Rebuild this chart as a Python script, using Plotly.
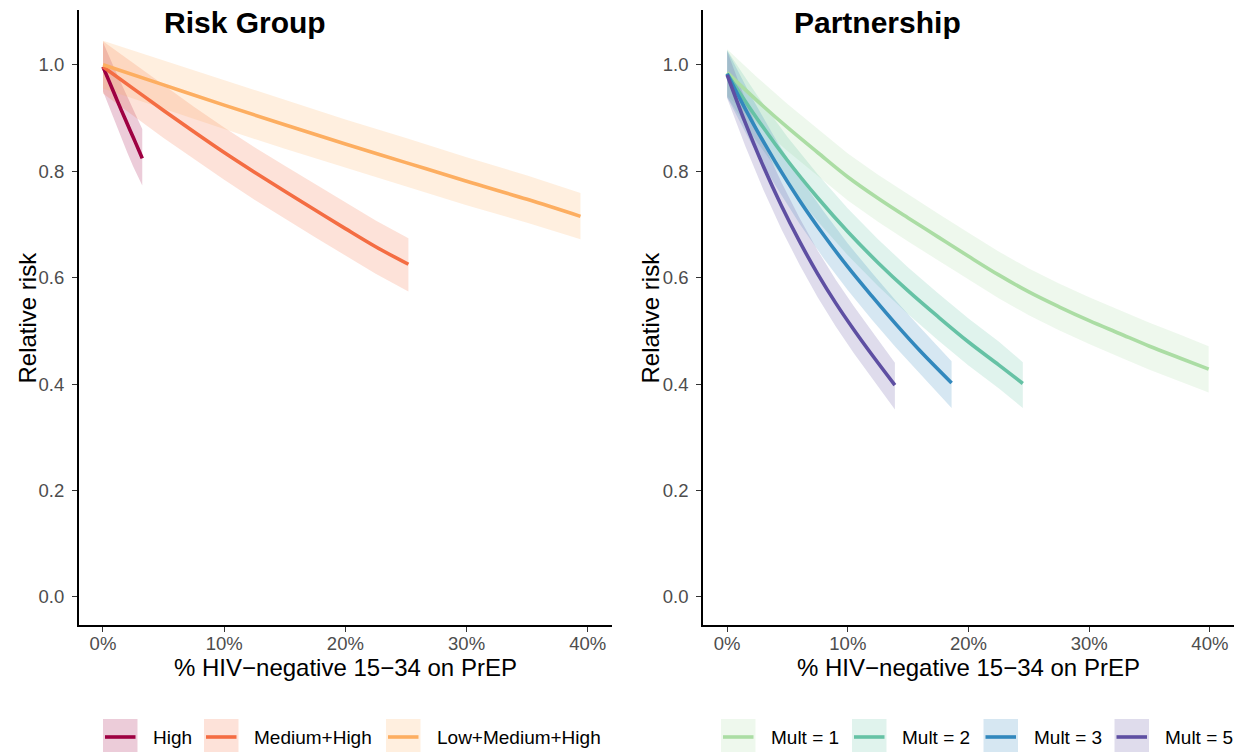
import plotly.graph_objects as go

# ---------------- data ----------------
# Left panel: Risk Group (x = % HIV-negative 15-34 on PrEP, y = relative risk)
high_x = [0, 0.5, 1.0, 1.5, 2.0, 2.5, 3.0, 3.24]
high_y = [0.996, 0.969, 0.942, 0.915, 0.889, 0.863, 0.837, 0.824]
high_lo = [0.950, 0.921, 0.893, 0.864, 0.835, 0.808, 0.784, 0.773]
high_hi = [1.042, 1.015, 0.990, 0.965, 0.940, 0.915, 0.890, 0.879]

medhigh_x = [0, 2.5, 5, 7.5, 10, 12.5, 15, 17.5, 20, 22.5, 25.2]
medhigh_y = [0.996, 0.955, 0.914, 0.874, 0.835, 0.798, 0.762, 0.727, 0.692, 0.658, 0.625]
medhigh_lo = [0.946, 0.904, 0.862, 0.823, 0.784, 0.746, 0.711, 0.676, 0.641, 0.607, 0.574]
medhigh_hi = [1.044, 1.003, 0.962, 0.921, 0.882, 0.845, 0.810, 0.776, 0.741, 0.707, 0.674]

lmh_x = [0, 5, 10, 15, 20, 25, 30, 35, 39.4]
lmh_y = [1.0, 0.962, 0.924, 0.887, 0.851, 0.816, 0.781, 0.747, 0.715]
lmh_lo = [0.955, 0.917, 0.879, 0.842, 0.806, 0.771, 0.736, 0.703, 0.672]
lmh_hi = [1.045, 1.008, 0.970, 0.933, 0.897, 0.862, 0.826, 0.792, 0.759]

# Right panel: Partnership
m1_x = [0, 2.5, 5, 7.5, 10, 12.5, 15, 17.5, 20, 22.5, 25, 27.5, 30, 32.5, 35, 37.5, 39.9]
m1_y = [0.985, 0.932, 0.882, 0.835, 0.789, 0.749, 0.712, 0.676, 0.640, 0.605, 0.573, 0.545, 0.519, 0.495, 0.471, 0.449, 0.428]
m1_lo = [0.941, 0.888, 0.838, 0.791, 0.745, 0.705, 0.668, 0.632, 0.596, 0.561, 0.529, 0.501, 0.475, 0.451, 0.427, 0.405, 0.384]
m1_hi = [1.029, 0.976, 0.926, 0.879, 0.833, 0.793, 0.756, 0.720, 0.684, 0.649, 0.617, 0.589, 0.563, 0.539, 0.515, 0.493, 0.471]

m2_x = [0, 2.5, 5, 7.5, 10, 12.5, 15, 17.5, 20, 22.5, 24.5]
m2_y = [0.983, 0.898, 0.820, 0.750, 0.686, 0.628, 0.575, 0.526, 0.479, 0.436, 0.401]
m2_lo = [0.939, 0.854, 0.776, 0.706, 0.642, 0.584, 0.531, 0.482, 0.435, 0.392, 0.355]
m2_hi = [1.027, 0.942, 0.864, 0.794, 0.730, 0.672, 0.619, 0.570, 0.523, 0.480, 0.441]

m3_x = [0, 2, 4, 6, 8, 10, 12, 14, 16, 18.6]
m3_y = [0.983, 0.896, 0.817, 0.745, 0.680, 0.620, 0.565, 0.512, 0.462, 0.402]
m3_lo = [0.939, 0.852, 0.773, 0.701, 0.636, 0.576, 0.521, 0.468, 0.418, 0.355]
m3_hi = [1.027, 0.940, 0.861, 0.789, 0.724, 0.664, 0.609, 0.556, 0.506, 0.443]

m5_x = [0, 1.5, 3, 4.5, 6, 7.5, 9, 10.5, 12, 13.9]
m5_y = [0.981, 0.891, 0.809, 0.735, 0.668, 0.607, 0.552, 0.502, 0.455, 0.398]
m5_lo = [0.937, 0.847, 0.765, 0.691, 0.624, 0.563, 0.508, 0.458, 0.411, 0.352]
m5_hi = [1.025, 0.935, 0.853, 0.779, 0.712, 0.651, 0.596, 0.546, 0.499, 0.440]

left_names = ["High", "Medium+High", "Low+Medium+High"]
right_names = ["Mult = 1", "Mult = 2", "Mult = 3", "Mult = 5"]
x_ticks = [0, 10, 20, 30, 40]
y_ticks = [0.0, 0.2, 0.4, 0.6, 0.8, 1.0]

# ---------------- style ----------------
W, H = 1244, 752
FONT = "Liberation Sans, Arial, Helvetica, sans-serif"
left_cols = ["#9E0142", "#F46D43", "#FDAE61"]
right_cols = ["#ABDDA4", "#66C2A5", "#3288BD", "#5E4FA2"]


def rgba(hexc, a):
    h = hexc.lstrip("#")
    r, g, b = int(h[0:2], 16), int(h[2:4], 16), int(h[4:6], 16)
    return f"rgba({r},{g},{b},{a})"


def px(x):
    return x / W


def py(y):
    return 1 - y / H


left_series = [
    (high_x, high_y, high_lo, high_hi),
    (medhigh_x, medhigh_y, medhigh_lo, medhigh_hi),
    (lmh_x, lmh_y, lmh_lo, lmh_hi),
]
right_series = [
    (m1_x, m1_y, m1_lo, m1_hi),
    (m2_x, m2_y, m2_lo, m2_hi),
    (m3_x, m3_y, m3_lo, m3_hi),
    (m5_x, m5_y, m5_lo, m5_hi),
]

fig = go.Figure()


def add_panel(series, cols, names, xa, ya):
    for (xs, ys, lo, hi), c, n in zip(series, cols, names):
        fig.add_trace(go.Scatter(
            x=list(xs) + list(xs)[::-1], y=list(hi) + list(lo)[::-1],
            fill="toself", fillcolor=rgba(c, 0.2), line=dict(width=0),
            mode="lines", hoverinfo="skip", showlegend=False, xaxis=xa, yaxis=ya))
    for (xs, ys, lo, hi), c, n in zip(series, cols, names):
        fig.add_trace(go.Scatter(
            x=xs, y=ys, mode="lines", name=n,
            line=dict(color=c, width=3.6, shape="spline", smoothing=1.0),
            showlegend=False, xaxis=xa, yaxis=ya))


add_panel(left_series, left_cols, left_names, "x", "y")
add_panel(right_series, right_cols, right_names, "x2", "y2")

y_top, y_bot = 10, 625
ydom = [py(y_bot), py(y_top)]
xaxis_common = dict(
    range=[-2, 42], tickvals=x_ticks, ticktext=[f"{v}%" for v in x_ticks],
    showgrid=False, zeroline=False, showline=True, linecolor="black", linewidth=1.6,
    ticks="outside", ticklen=5, tickwidth=1.2, tickcolor="#333333", ticklabelstandoff=-4,
    tickfont=dict(family=FONT, size=18.5, color="#4D4D4D"), fixedrange=True,
)
yaxis_common = dict(
    range=[-0.0527, 1.1027], tickvals=y_ticks, ticktext=[f"{v:.1f}" for v in y_ticks],
    showgrid=False, zeroline=False, showline=True, linecolor="black", linewidth=1.6,
    ticks="outside", ticklen=5, tickwidth=1.2, tickcolor="#333333", ticklabelstandoff=4,
    tickfont=dict(family=FONT, size=18.5, color="#4D4D4D"), domain=ydom, fixedrange=True,
)

fig.update_layout(
    width=W, height=H, margin=dict(l=0, r=0, t=0, b=0),
    paper_bgcolor="white", plot_bgcolor="white", showlegend=False,
    font=dict(family=FONT, color="black"),
    xaxis=dict(xaxis_common, domain=[px(78.75), px(612)], anchor="y"),
    yaxis=dict(yaxis_common, anchor="x"),
    xaxis2=dict(xaxis_common, domain=[px(703), px(1234)], anchor="y2"),
    yaxis2=dict(yaxis_common, anchor="x2"),
)

ann = []
# panel titles
ann.append(dict(text="<b>Risk Group</b>", x=px(245), y=py(22), xref="paper", yref="paper",
                showarrow=False, font=dict(size=30, family=FONT, color="black"),
                xanchor="center", yanchor="middle"))
ann.append(dict(text="<b>Partnership</b>", x=px(877), y=py(22), xref="paper", yref="paper",
                showarrow=False, font=dict(size=30, family=FONT, color="black"),
                xanchor="center", yanchor="middle"))
# axis titles
for cx in (345.4, 968.5):
    ann.append(dict(text="% HIV\u2212negative 15\u221234 on PrEP", x=px(cx), y=py(667),
                    xref="paper", yref="paper", showarrow=False,
                    font=dict(size=24, family=FONT, color="black"),
                    xanchor="center", yanchor="middle"))
for cx in (27, 650):
    ann.append(dict(text="Relative risk", x=px(cx), y=py(317.5), xref="paper", yref="paper",
                    showarrow=False, textangle=-90,
                    font=dict(size=24, family=FONT, color="black"),
                    xanchor="center", yanchor="middle"))

# manual legends
shapes = []
key_top, key_bot, key_mid = 719, 756, 737
left_keys = [(103, 150.5), (204, 252), (386, 434.5)]
right_keys = [(721, 769.5), (852, 900), (983.5, 1031.5), (1114.5, 1162.5)]
for (kx, lx), c, n in list(zip(left_keys, left_cols, left_names)) + list(zip(right_keys, right_cols, right_names)):
    shapes.append(dict(type="rect", xref="paper", yref="paper",
                       x0=px(kx), x1=px(kx + 34.5), y0=py(key_bot), y1=py(key_top),
                       fillcolor=rgba(c, 0.2), line=dict(width=0), layer="below"))
    shapes.append(dict(type="line", xref="paper", yref="paper",
                       x0=px(kx + 2), x1=px(kx + 32.5), y0=py(key_mid), y1=py(key_mid),
                       line=dict(color=c, width=3.6)))
    ann.append(dict(text=n, x=px(lx), y=py(key_mid), xref="paper", yref="paper",
                    showarrow=False, xanchor="left", yanchor="middle",
                    font=dict(size=19, family=FONT, color="black")))

fig.update_layout(annotations=ann, shapes=shapes)
fig.write_html("out.html")
